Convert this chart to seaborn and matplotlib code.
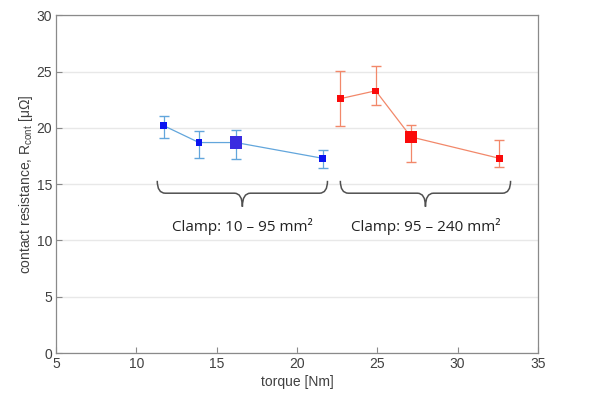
import numpy as np
import pandas as pd
import matplotlib as mpl
import matplotlib.pyplot as plt
from matplotlib.path import Path
from matplotlib.patches import PathPatch
import seaborn as sns

# %% data
torque_small = [11.7, 13.9, 16.2, 21.6]
r_small = [20.2, 18.7, 18.7, 17.3]
lo_small = [19.1, 17.3, 17.2, 16.4]
hi_small = [21.1, 19.7, 19.8, 18.0]

torque_large = [22.7, 24.9, 27.1, 32.6]
r_large = [22.6, 23.3, 19.2, 17.3]
lo_large = [20.2, 22.0, 17.0, 16.5]
hi_large = [25.1, 25.5, 20.3, 18.9]

# the bigger square is the highlighted point of each clamp
big_small = [0, 0, 1, 0]
big_large = [0, 0, 1, 0]

clamp_labels = ['Clamp: 10 – 95 mm²', 'Clamp: 95 – 240 mm²']

df = pd.concat([
    pd.DataFrame({'torque': torque_small, 'R': r_small, 'lo': lo_small, 'hi': hi_small,
                  'big': big_small, 'clamp': 'small'}),
    pd.DataFrame({'torque': torque_large, 'R': r_large, 'lo': lo_large, 'hi': hi_large,
                  'big': big_large, 'clamp': 'large'}),
], ignore_index=True)

line_col = {'small': '#62a6dc', 'large': '#f2886a'}
mark_col = {'small': '#0a14f0', 'large': '#fa0a0a'}

# %% plot
sns.set_theme(style='white')
plt.rcParams['font.family'] = ['Liberation Sans', 'DejaVu Sans']
plt.rcParams['mathtext.fontset'] = 'custom'
plt.rcParams['mathtext.rm'] = 'Liberation Sans'

fig = plt.figure(figsize=(6.03, 3.94), dpi=100)
ax = fig.add_axes([0.093, 0.104, 0.799, 0.857])

sns.lineplot(data=df, x='torque', y='R', hue='clamp', palette=line_col,
             linewidth=0.9, legend=False, ax=ax, zorder=2)

for c, g in df.groupby('clamp'):
    ax.errorbar(g['torque'], g['R'], yerr=[g['R'] - g['lo'], g['hi'] - g['R']],
                fmt='none', ecolor=line_col[c], elinewidth=0.9, capsize=3.5, zorder=2)

sml = df[df['big'] == 0]
bg = df[df['big'] == 1]
sns.scatterplot(data=sml, x='torque', y='R', hue='clamp', palette=mark_col, marker='s',
                s=22, linewidth=0, legend=False, ax=ax, zorder=3)
sns.scatterplot(data=bg, x='torque', y='R', hue='clamp', palette={'small': '#3a2ce0', 'large': '#fa0a0a'},
                marker='s', s=85, linewidth=0, legend=False, ax=ax, zorder=3)

# curly braces under each group
def brace(ax, x0, x1, ytop, ybar, ytip):
    xc = (x0 + x1) / 2
    r = 0.5
    verts = [(x0, ytop), (x0, ybar), (x0 + r, ybar),
             (xc - r, ybar),
             (xc, ybar), (xc, ytip),
             (xc, ybar), (xc + r, ybar),
             (x1 - r, ybar),
             (x1, ybar), (x1, ytop)]
    codes = [Path.MOVETO, Path.CURVE3, Path.CURVE3,
             Path.LINETO,
             Path.CURVE3, Path.CURVE3,
             Path.CURVE3, Path.CURVE3,
             Path.LINETO,
             Path.CURVE3, Path.CURVE3]
    ax.add_patch(PathPatch(Path(verts, codes), fill=False, edgecolor='#505050', linewidth=1.1))
    return xc

xc1 = brace(ax, 11.3, 21.9, 15.3, 14.2, 13.0)
xc2 = brace(ax, 22.7, 33.3, 15.3, 14.2, 13.0)
ax.text(xc1, 11.2, clamp_labels[0], ha='center', va='center', fontsize=11,
        family=['Open Sans', 'DejaVu Sans'], color='#222222')
ax.text(xc2, 11.2, clamp_labels[1], ha='center', va='center', fontsize=11,
        family=['Open Sans', 'DejaVu Sans'], color='#222222')

ax.set_xlim(5, 35)
ax.set_ylim(0, 30)
ax.set_xticks(range(5, 36, 5))
ax.set_yticks(range(0, 31, 5))
ax.grid(axis='y', color='#e8e8e8', linewidth=1)
ax.set_axisbelow(True)
for s in ax.spines.values():
    s.set_color('#8a8a8a')
    s.set_linewidth(0.9)
ax.tick_params(axis='both', direction='in', length=4, width=0.8, color='#8a8a8a',
               labelsize=10, labelcolor='#404040', left=True, bottom=True, pad=3)
ax.set_xlabel('torque [Nm]', fontsize=10, color='#404040', labelpad=3)
ax.set_ylabel('contact resistance, R$_{\\mathrm{cont}}$ [μΩ]', fontsize=10, color='#404040', labelpad=1)

plt.savefig('out.png', dpi=100)
